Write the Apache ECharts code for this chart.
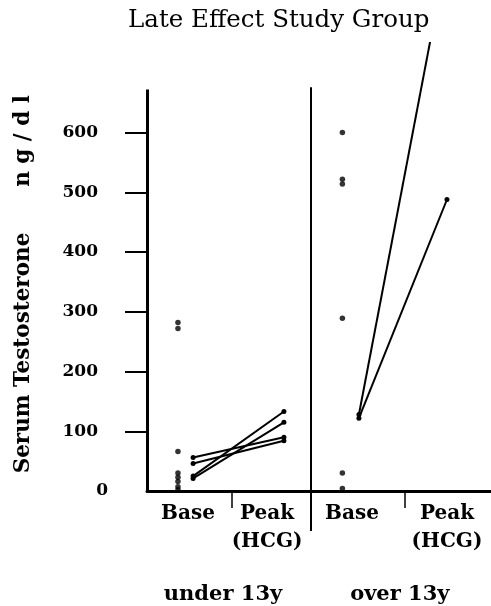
<!DOCTYPE html>
<html>
<head>
<meta charset="utf-8">
<script src="https://cdn.jsdelivr.net/npm/echarts@6/dist/echarts.min.js"></script>
<style>
  html, body { margin: 0; padding: 0; background: #fff; }
  #chart { width: 491px; height: 606px; }
</style>
</head>
<body>
<div id="chart"></div>
<script>
// values (ng/dl)
var yTicks = [100, 200, 300, 400, 500, 600];
var under13Dots = [282, 272, 66, 30, 23, 16, 7, 2];
var under13Base = [56, 46, 25, 21];
var under13Peak = [90, 84, 133, 115];
var over13Dots = [600, 522, 514, 289, 30, 4];
var over13Base = [128, 122];
var over13Peak = [900, 488];

// x slots on a 0-100 axis
var slot = {
  u_dots: 9, u_base: 13.4, u_peak: 39.8,
  o_dots: 56.8, o_base: 61.6, o_peak: 87.2,
  tickA: 24.7, divider: 47.7, tickB: 75
};
var xLabels = { 11.9: "Base", 34.9: "Peak\n(HCG)", 59.6: "Base", 87.2: "Peak\n(HCG)" };
var groupLabels = { 22.1: "under 13y", 73.5: "over 13y" };

var font = "DejaVu Serif";
var chart = echarts.init(document.getElementById("chart"));

var series = [];
function pairSeries(base, peak, x0, x1) {
  base.forEach(function (b, i) {
    series.push({
      type: "line",
      data: [[x0, b], [x1, peak[i]]],
      symbol: "circle",
      symbolSize: 5,
      lineStyle: { color: "#000", width: 2 },
      itemStyle: { color: "#000" },
      silent: true,
      z: 3
    });
  });
}
pairSeries(under13Base, under13Peak, slot.u_base, slot.u_peak);
pairSeries(over13Base, over13Peak, slot.o_base, slot.o_peak);

series.push({
  type: "scatter",
  data: under13Dots.map(function (v) { return [slot.u_dots, v]; })
    .concat(over13Dots.map(function (v) { return [slot.o_dots, v]; })),
  symbol: "circle",
  symbolSize: 5.5,
  itemStyle: { color: "#000" },
  clip: false,
  markLine: {
    silent: true,
    symbol: "none",
    label: { show: false },
    lineStyle: { color: "#000", type: "solid" },
    data: [
      [{ coord: [0, 0], lineStyle: { width: 3 } }, { coord: [0, 672] }],
      [{ coord: [slot.divider, 0], lineStyle: { width: 2 } }, { coord: [slot.divider, 676] }]
    ]
  }
});

var axisFont = { color: "#000", fontFamily: font, fontWeight: "bold" };

var option = {
  animation: false,
  backgroundColor: "#fff",
  title: {
    text: "Late Effect Study Group",
    left: 123,
    top: 3,
    textStyle: { fontFamily: font, fontWeight: "normal", fontSize: 24.5, color: "#000" }
  },
  graphic: [
    {
      type: "text",
      x: 23,
      y: 353,
      rotation: Math.PI / 2,
      style: Object.assign({ text: "Serum Testosterone", fontSize: 21.5, fill: "#000",
        align: "center", verticalAlign: "middle" }, { fontFamily: font, fontWeight: "bold" })
    },
    {
      type: "text",
      x: 23,
      y: 141,
      rotation: Math.PI / 2,
      style: Object.assign({ text: "n g / d l", fontSize: 21.5, fill: "#000",
        align: "center", verticalAlign: "middle" }, { fontFamily: font, fontWeight: "bold" })
    }
  ],
  grid: { left: 147, right: 0, top: 43, bottom: 115 },
  xAxis: [
    {
      type: "value",
      min: 0,
      max: 100,
      axisLine: { show: true, lineStyle: { color: "#000", width: 3 } },
      axisTick: { show: true, customValues: [slot.tickA, slot.tickB], length: 17, lineStyle: { color: "#000", width: 1.5 } },
      axisLabel: Object.assign({
        customValues: [11.9, 34.9, 59.6, 87.2],
        formatter: function (v) { return xLabels[v] || ""; },
        margin: 9,
        lineHeight: 28,
        fontSize: 20
      }, axisFont),
      splitLine: { show: false }
    },
    {
      type: "value",
      min: 0,
      max: 100,
      position: "bottom",
      axisLine: { show: false },
      axisTick: { show: true, customValues: [slot.divider], length: 40, lineStyle: { color: "#000", width: 2 } },
      axisLabel: Object.assign({
        customValues: [22.1, 73.5],
        formatter: function (v) { return groupLabels[v] || ""; },
        margin: 93,
        fontSize: 21
      }, axisFont),
      splitLine: { show: false }
    }
  ],
  yAxis: [
    {
      type: "value",
      min: 0,
      max: 750,
      axisLine: { show: false },
      axisTick: { show: true, customValues: yTicks, length: 22, lineStyle: { color: "#000", width: 2 } },
      axisLabel: Object.assign({ customValues: yTicks, margin: 49, fontSize: 17 }, axisFont),
      splitLine: { show: false }
    },
    {
      // the zero label sits further right in the original
      type: "value",
      min: 0,
      max: 750,
      position: "left",
      axisLine: { show: false },
      axisTick: { show: false },
      axisLabel: Object.assign({ customValues: [0], margin: 39, fontSize: 17 }, axisFont),
      splitLine: { show: false }
    }
  ],
  series: series
};
chart.setOption(option);
</script>
</body>
</html>
